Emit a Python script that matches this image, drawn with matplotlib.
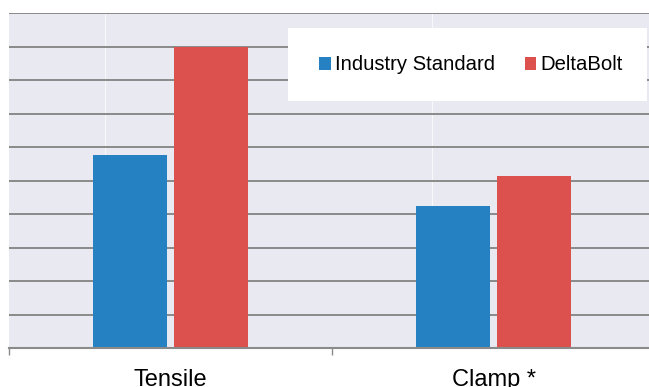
import numpy as np
import matplotlib.pyplot as plt
from matplotlib.patches import Rectangle

plt.rcParams['font.family'] = ['Liberation Sans', 'DejaVu Sans']

categories = ['Tensile', 'Clamp *']
series = ['Industry Standard', 'DeltaBolt']
industry = [5.76, 4.24]
deltabolt = [8.98, 5.13]
colors = ['#2681C2', '#DC514E']

fig = plt.figure(figsize=(6.49, 3.87), dpi=100)
ax = fig.add_axes([9/649, 39/387, 646/649, 335/387])
ax.set_facecolor('#E9E9F1')

x = np.arange(len(categories)) + 0.5
w = 0.229
off = 0.124
ax.bar(x - off, industry, w, color=colors[0], label=series[0], zorder=3)
ax.bar(x + off, deltabolt, w, color=colors[1], label=series[1], zorder=3)

ax.set_xlim(0, 2)
ax.set_ylim(0, 10)

# faint vertical lines in the plot area
for v in [0.297, 1.31]:
    ax.axvline(v, color='white', lw=0.8, alpha=0.7, zorder=1)

ax.set_yticks(np.arange(0, 11, 1))
ax.yaxis.grid(True, color='#8A8A8A', lw=1.4, zorder=2)
ax.tick_params(axis='y', left=False, labelleft=False)

ax.set_xticks([0, 1, 2])
ax.set_xticklabels([])
ax.set_xticks(x, minor=True)
ax.set_xticklabels(categories, minor=True, fontsize=17)
ax.tick_params(axis='x', which='major', length=5, width=1, color='#8A8A8A')
ax.tick_params(axis='x', which='minor', length=0, pad=15)

for s in ['top', 'right', 'left']:
    ax.spines[s].set_visible(False)
ax.spines['bottom'].set_color('#8A8A8A')
ax.spines['bottom'].set_linewidth(1.5)
ax.spines['bottom'].set_zorder(4)

# white legend box
box = Rectangle((288/649, 1 - 101/387), 359/649, 73/387, transform=fig.transFigure,
                facecolor='white', edgecolor='none', zorder=5)
fig.patches.append(box)

leg = fig.legend(*ax.get_legend_handles_labels(), loc='center',
                 bbox_to_anchor=(471/649, 1 - 65/387), ncol=2, fontsize=14.6,
                 frameon=False, borderpad=0, borderaxespad=0,
                 handlelength=0.58, handleheight=0.58, handletextpad=0.2,
                 columnspacing=1.45)
leg.set_zorder(6)

fig.savefig('out.png', dpi=100)
